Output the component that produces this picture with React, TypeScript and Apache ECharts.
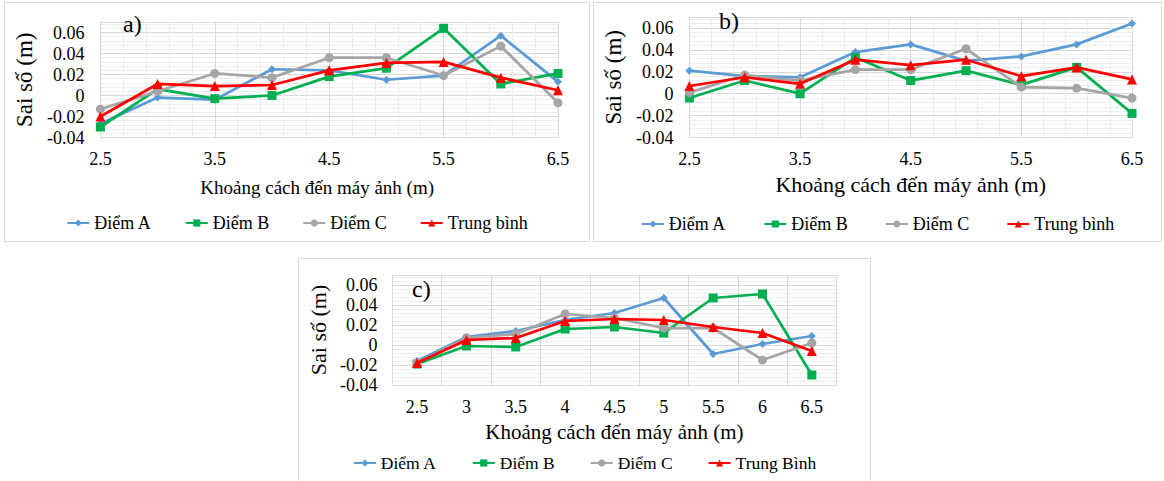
import React, { useEffect, useRef } from "react";
import * as echarts from "echarts";

// ---- data ----
const xValues = [2.5, 3, 3.5, 4, 4.5, 5, 5.5, 6, 6.5];
const xLabelsC = ["2.5", "3", "3.5", "4", "4.5", "5", "5.5", "6", "6.5"];
const seriesNames = ["Điểm A", "Điểm B", "Điểm C", "Trung bình"];
const seriesNamesC = ["Điểm A", "Điểm B", "Điểm C", "Trung Bình"];

const aPointA = [-0.027, -0.002, -0.004, 0.025, 0.024, 0.015, 0.019, 0.057, 0.013];
const aPointB = [-0.03, 0.006, -0.003, 0.0, 0.018, 0.026, 0.064, 0.011, 0.021];
const aPointC = [-0.013, 0.004, 0.021, 0.017, 0.036, 0.036, 0.019, 0.047, -0.007];
const aMean = [-0.02, 0.011, 0.009, 0.01, 0.024, 0.031, 0.032, 0.017, 0.005];

const bPointA = [0.021, 0.016, 0.015, 0.038, 0.045, 0.03, 0.034, 0.045, 0.064];
const bPointB = [-0.004, 0.012, 0.0, 0.033, 0.012, 0.021, 0.008, 0.024, -0.018];
const bPointC = [0.001, 0.017, 0.012, 0.022, 0.022, 0.041, 0.006, 0.005, -0.004];
const bMean = [0.007, 0.015, 0.009, 0.031, 0.026, 0.031, 0.016, 0.024, 0.013];

const cPointA = [-0.016, 0.008, 0.014, 0.025, 0.032, 0.047, -0.009, 0.001, 0.009];
const cPointB = [-0.019, -0.001, -0.002, 0.016, 0.018, 0.012, 0.047, 0.051, -0.03];
const cPointC = [-0.018, 0.007, 0.011, 0.031, 0.027, 0.017, 0.017, -0.015, 0.002];
const cMean = [-0.018, 0.005, 0.007, 0.024, 0.026, 0.025, 0.018, 0.012, -0.006];

const yAxisTitle = "Sai số (m)";
const xAxisTitle = "Khoảng cách đến máy ảnh (m)";

// ---- styles ----
const FONT = "Liberation Serif";
const COLORS = ["#5B9BD5", "#00B050", "#A5A5A5", "#FF0000"];
const SYMBOLS = ["diamond", "rect", "circle", "triangle"];
const SYMBOL_SIZES = [8, 9, 9, 10];

type PanelCfg = {
  letter: string;
  left: number;
  top: number;
  width: number;
  height: number;
  category: boolean;
  names: string[];
  data: number[][];
  grid: { left: number; top: number; width: number; height: number };
  labelMargin: number;
  yLabelMargin: number;
  xNameGap: number;
  xNameSize: number;
  xNameShift: number;
  yNameGap: number;
  yNameSize: number;
  legendTop: number;
  legendGap: number;
  legendSize: number;
  letterPos: [number, number];
};

const panels: PanelCfg[] = [
  {
    letter: "a)",
    left: 4,
    top: 2,
    width: 586,
    height: 240,
    category: false,
    names: seriesNames,
    data: [aPointA, aPointB, aPointC, aMean],
    grid: { left: 95, top: 19, width: 458, height: 115.5 },
    labelMargin: 12,
    yLabelMargin: 16,
    xNameGap: 40,
    xNameSize: 19,
    xNameShift: 12,
    yNameGap: 50,
    yNameSize: 23,
    legendTop: 206,
    legendGap: 33,
    legendSize: 18,
    letterPos: [118, 9],
  },
  {
    letter: "b)",
    left: 593,
    top: 2,
    width: 569,
    height: 240,
    category: false,
    names: seriesNames,
    data: [bPointA, bPointB, bPointC, bMean],
    grid: { left: 93, top: 14, width: 445, height: 120.5 },
    labelMargin: 12,
    yLabelMargin: 16,
    xNameGap: 36,
    xNameSize: 22,
    xNameShift: 0,
    yNameGap: 55,
    yNameSize: 23,
    legendTop: 207,
    legendGap: 37,
    legendSize: 18,
    letterPos: [125, 6],
  },
  {
    letter: "c)",
    left: 298,
    top: 258,
    width: 573,
    height: 240,
    category: true,
    names: seriesNamesC,
    data: [cPointA, cPointB, cPointC, cMean],
    grid: { left: 89, top: 16, width: 448.5, height: 110 },
    labelMargin: 13,
    yLabelMargin: 15,
    xNameGap: 36,
    xNameSize: 21,
    xNameShift: 0,
    yNameGap: 53,
    yNameSize: 22,
    legendTop: 190,
    legendGap: 35,
    legendSize: 17.5,
    letterPos: [113, 18],
  },
];

const fmtY = (v: number) => {
  if (Math.abs(v) < 1e-9) return "0";
  return String(Number(v.toFixed(3)));
};

function buildOption(p: PanelCfg): any {
  const textColor = "#000";
  const xAxis: any = p.category
    ? {
        type: "category",
        data: xLabelsC,
        boundaryGap: true,
        axisLine: { show: false },
        axisTick: { show: false },
        axisLabel: { color: textColor, fontFamily: FONT, fontSize: 18, margin: p.labelMargin },
        splitLine: { show: true, lineStyle: { color: "#D9D9D9", width: 1 } },
      }
    : {
        type: "value",
        min: 2.5,
        max: 6.5,
        interval: 1,
        axisLine: { show: false },
        axisTick: { show: false },
        axisLabel: {
          color: textColor,
          fontFamily: FONT,
          fontSize: 18,
          margin: p.labelMargin,
          formatter: (v: number) => String(v),
        },
        splitLine: { show: true, lineStyle: { color: "#D9D9D9", width: 1 } },
        minorTick: { show: false, splitNumber: 5 },
        minorSplitLine: { show: true, lineStyle: { color: "#EDEDED", width: 1 } },
      };
  xAxis.name = xAxisTitle;
  xAxis.nameLocation = "middle";
  xAxis.nameGap = p.xNameGap;
  xAxis.nameTextStyle = {
    color: textColor,
    fontFamily: FONT,
    fontSize: p.xNameSize,
    padding: [0, p.xNameShift * 2, 0, 0],
  };

  const series = p.names.map((name, i) => ({
    name,
    type: "line",
    data: p.category ? p.data[i] : p.data[i].map((y, k) => [xValues[k], y]),
    symbol: SYMBOLS[i],
    symbolSize: SYMBOL_SIZES[i],
    showAllSymbol: true,
    lineStyle: { color: COLORS[i], width: 2.75 },
    itemStyle: { color: COLORS[i] },
    z: 2 + i,
  }));

  return {
    animation: false,
    textStyle: { fontFamily: FONT, color: textColor },
    grid: { ...p.grid, containLabel: false },
    xAxis,
    yAxis: {
      type: "value",
      min: -0.04,
      max: 0.07,
      interval: 0.02,
      axisLine: { show: false },
      axisTick: { show: false },
      axisLabel: {
        color: textColor,
        fontFamily: FONT,
        fontSize: 18,
        margin: p.yLabelMargin,
        showMaxLabel: false,
        formatter: fmtY,
      },
      splitLine: { show: true, lineStyle: { color: "#D9D9D9", width: 1 } },
      minorTick: { show: false, splitNumber: 5 },
      minorSplitLine: { show: true, lineStyle: { color: "#EDEDED", width: 1 } },
      name: yAxisTitle,
      nameLocation: "middle",
      nameGap: p.yNameGap,
      nameTextStyle: { color: textColor, fontFamily: FONT, fontSize: p.yNameSize },
    },
    legend: {
      data: p.names,
      left: "center",
      top: p.legendTop,
      itemWidth: 22,
      itemHeight: 9,
      itemGap: p.legendGap,
      textStyle: { color: textColor, fontFamily: FONT, fontSize: p.legendSize },
    },
    graphic: [
      {
        type: "text",
        left: p.letterPos[0],
        top: p.letterPos[1],
        z: 100,
        style: {
          text: p.letter,
          fill: textColor,
          font: "24px Liberation Serif",
          fontFamily: FONT,
          fontSize: 24,
        },
      },
    ],
    series,
  };
}

function Panel({ p }: { p: PanelCfg }) {
  const ref = useRef<HTMLDivElement>(null);
  useEffect(() => {
    if (!ref.current) return;
    const chart = echarts.init(ref.current, undefined, { renderer: "svg" });
    chart.setOption(buildOption(p));
    return () => chart.dispose();
  }, [p]);
  return (
    <div
      style={{
        position: "absolute",
        left: p.left,
        top: p.top,
        width: p.width,
        height: p.height,
        border: "1px solid #D9D9D9",
        boxSizing: "border-box",
        background: "#fff",
      }}
    >
      <div ref={ref} style={{ width: p.width - 2, height: p.height - 2 }} />
    </div>
  );
}

export default function App() {
  return (
    <div
      style={{
        position: "fixed",
        left: 0,
        top: 0,
        width: 1164,
        height: 481,
        overflow: "hidden",
        background: "#fff",
      }}
    >
      {panels.map((p) => (
        <Panel key={p.letter} p={p} />
      ))}
    </div>
  );
}
